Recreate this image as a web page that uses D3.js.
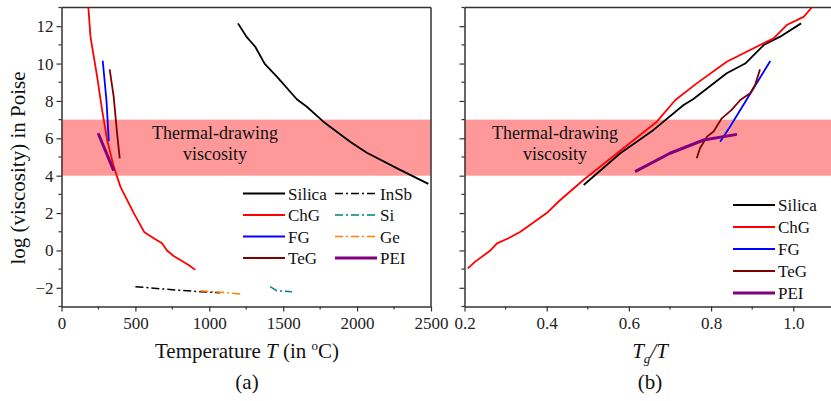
<!DOCTYPE html>
<html><head><meta charset="utf-8">
<script src="https://cdn.jsdelivr.net/npm/d3@7"></script>
<style>body{margin:0;background:#fff}svg{display:block;font-family:"Liberation Serif","Times New Roman",serif}svg text{font-family:"Liberation Serif","Times New Roman",serif}</style>
</head><body><svg id="c" width="831" height="401"></svg>
<script>
// ---- data ----
const yTicks = [-2, 0, 2, 4, 6, 8, 10, 12];
const xTicksA = [0, 500, 1000, 1500, 2000, 2500];
const xTicksB = [0.2, 0.4, 0.6, 0.8, 1.0];
const band = [4, 7];

// Panel (a): temperature (°C) vs log viscosity
const silicaA = [[1194,12.15],[1255,11.4],[1311,10.9],[1375,9.98],[1457,9.3],[1592,8.09],[1660,7.69],[1772,6.89],[1953,5.82],[2066,5.23],[2291,4.31],[2482,3.56]];
const chgA = [[180,13.2],[196,11.44],[241,9.3],[275,7.5],[309,5.9],[353,4.5],[399,3.4],[489,2.0],[561,0.97],[624,0.65],[680,0.38],[714,0.0],[759,-0.3],[860,-0.78],[905,-1.04]];
const fgA = [[279,10.15],[304,8.05],[320,5.85]];
const tegA = [[326,9.69],[353,8.23],[376,6.27],[394,4.93]];
const peiA = [[248,6.27],[286,5.55],[353,4.27]];
const insbA = [[500,-1.94],[714,-2.08],[939,-2.21],[1074,-2.26]];
const geA = [[939,-2.16],[1080,-2.24],[1214,-2.34]];
const siA = [[1412,-1.94],[1457,-2.16],[1559,-2.21]];

// Panel (b): Tg/T vs log viscosity
const silicaB = [[0.49,3.5],[0.579,5.2],[0.66,6.45],[0.733,7.78],[0.757,8.1],[0.838,9.48],[0.883,10.0],[0.928,10.99],[0.968,11.44],[1.019,12.15]];
const chgB = [[0.208,-0.96],[0.226,-0.6],[0.263,0.0],[0.279,0.38],[0.307,0.65],[0.336,1.0],[0.4,2.0],[0.433,2.7],[0.49,3.78],[0.668,6.89],[0.713,8.05],[0.765,8.94],[0.838,10.1],[0.952,11.35],[0.984,12.06],[1.025,12.5],[1.045,13.0]];
const fgB = [[0.822,5.82],[0.846,6.62],[0.944,10.14]];
const tegB = [[0.765,4.93],[0.773,5.47],[0.79,6.09],[0.806,6.36],[0.826,7.07],[0.85,7.52],[0.871,8.05],[0.895,8.41],[0.907,8.85],[0.919,9.69]];
const peiB = [[0.615,4.22],[0.7,5.2],[0.782,5.91],[0.863,6.21]];

const legendA = [["Silica","#000",1.8,null],["ChG","#ff0000",1.8,null],["FG","#0000ff",1.8,null],["TeG","#800000",1.8,null],
                 ["InSb","#000",1.5,"8,3,2,3"],["Si","#008080",1.5,"8,3,2,3"],["Ge","#ff8000",1.5,"8,3,2,3"],["PEI","#800080",3,null]];
const legendB = [["Silica","#000",1.8],["ChG","#ff0000",1.8],["FG","#0000ff",1.8],["TeG","#800000",1.8],["PEI","#800080",3]];

// ---- drawing ----
const svg = d3.select("#c");
const y = d3.scaleLinear().domain([-3, 13]).range([306.5, 7.5]);
const xA = d3.scaleLinear().domain([0, 2500]).range([61.5, 431]);
const xB = d3.scaleLinear().domain([0.2, 1.1]).range([464.5, 834.4]);
const defs = svg.append("defs");
defs.append("clipPath").attr("id", "clipA").append("rect").attr("x", 61.5).attr("y", 7.5).attr("width", 369.5).attr("height", 299);
defs.append("clipPath").attr("id", "clipB").append("rect").attr("x", 464.5).attr("y", 7.5).attr("width", 370).attr("height", 299);

function panel(x, xt, minorX, fmt, showYLabels, rightBorder) {
  const g = svg.append("g");
  const [x0, x1] = x.range();
  g.append("rect").attr("x", x0).attr("y", y(band[1])).attr("width", x1 - x0)
   .attr("height", y(band[0]) - y(band[1])).attr("fill", "#ff9999");
  const yMinor = d3.range(-3, 13.01, 1).filter(v => !yTicks.includes(v));
  g.selectAll(".ym").data(yMinor).join("line").attr("x1", x0 - 3).attr("x2", x0)
   .attr("y1", d => y(d)).attr("y2", d => y(d)).attr("stroke", "#333").attr("stroke-width", 1.2);
  g.selectAll(".xm").data(minorX).join("line").attr("y1", 306.5).attr("y2", 309.5)
   .attr("x1", d => x(d)).attr("x2", d => x(d)).attr("stroke", "#333").attr("stroke-width", 1.2);
  const ya = g.append("g").attr("transform", `translate(${x0},0)`)
   .call(d3.axisLeft(y).tickValues(yTicks).tickSize(5).tickSizeOuter(0).tickPadding(3)
     .tickFormat(showYLabels ? d3.format("d") : () => ""));
  const xa = g.append("g").attr("transform", "translate(0,306.5)")
   .call(d3.axisBottom(x).tickValues(xt).tickSize(5).tickSizeOuter(0).tickPadding(5).tickFormat(fmt));
  [ya, xa].forEach(a => {
    a.attr("font-family", null);
    a.select(".domain").attr("stroke", "#333").attr("stroke-width", 1.5);
    a.selectAll(".tick line").attr("stroke", "#333").attr("stroke-width", 1.2);
    a.selectAll("text").style("font-family", "'Liberation Serif', serif").attr("font-size", 17).attr("fill", "#222");
  });
  g.append("line").attr("x1", x0).attr("x2", x1).attr("y1", 7.5).attr("y2", 7.5).attr("stroke", "#333").attr("stroke-width", 1.5);
  if (rightBorder) g.append("line").attr("x1", x1).attr("x2", x1).attr("y1", 7.5).attr("y2", 306.5).attr("stroke", "#333").attr("stroke-width", 1.5);
  return g;
}

const gA = panel(xA, xTicksA, [250, 750, 1250, 1750, 2250], d3.format("d"), true, true);
const gB = panel(xB, xTicksB, [0.3, 0.5, 0.7, 0.9, 1.1], d3.format(".1f"), false, false);

function bandText(g, cx) {
  const t = g.append("text").attr("text-anchor", "middle").attr("font-size", 18).attr("fill", "#111");
  t.append("tspan").attr("x", cx).attr("y", 139).text("Thermal-drawing");
  t.append("tspan").attr("x", cx).attr("y", 160).text("viscosity");
}
bandText(gA, 215);
bandText(gB, 555);

function series(g, x, data, color, w, dash) {
  const line = d3.line().x(d => x(d[0])).y(d => y(d[1]));
  g.append("path").datum(data).attr("d", line).attr("fill", "none").attr("stroke", color)
   .attr("stroke-width", w).attr("stroke-linejoin", "round").attr("stroke-dasharray", dash || null)
   .attr("clip-path", g === gA ? "url(#clipA)" : "url(#clipB)");
}

const dd = "8,3,2,3";
series(gA, xA, silicaA, "#000", 1.8);
series(gA, xA, chgA, "#ff0000", 1.8);
series(gA, xA, fgA, "#0000ff", 1.8);
series(gA, xA, tegA, "#800000", 1.8);
series(gA, xA, peiA, "#800080", 3);
series(gA, xA, insbA, "#000", 1.5, dd);
series(gA, xA, geA, "#ff8000", 1.5, dd);
series(gA, xA, siA, "#008080", 1.5, dd);

series(gB, xB, silicaB, "#000", 1.8);
series(gB, xB, chgB, "#ff0000", 1.8);
series(gB, xB, fgB, "#0000ff", 1.8);
series(gB, xB, tegB, "#800000", 1.8);
series(gB, xB, peiB, "#800080", 3);

legendA.forEach((d, i) => {
  const col = Math.floor(i / 4), row = i % 4;
  const lx = col === 0 ? 243 : 335, ly = 193.5 + row * 21.5;
  gA.append("line").attr("x1", lx).attr("x2", lx + 42).attr("y1", ly).attr("y2", ly)
    .attr("stroke", d[1]).attr("stroke-width", d[2]).attr("stroke-dasharray", d[3]);
  gA.append("text").attr("x", lx + 45).attr("y", ly + 6).attr("font-size", 17).attr("fill", "#111").text(d[0]);
});
legendB.forEach((d, i) => {
  const lx = 733, ly = 205 + i * 22;
  gB.append("line").attr("x1", lx).attr("x2", lx + 42).attr("y1", ly).attr("y2", ly)
    .attr("stroke", d[1]).attr("stroke-width", d[2]);
  gB.append("text").attr("x", lx + 45).attr("y", ly + 6).attr("font-size", 17).attr("fill", "#111").text(d[0]);
});

const tA = svg.append("text").attr("x", 247).attr("y", 358).attr("text-anchor", "middle").attr("font-size", 21).attr("fill", "#111");
tA.append("tspan").text("Temperature ");
tA.append("tspan").attr("font-style", "italic").text("T");
tA.append("tspan").text(" (in ");
tA.append("tspan").attr("font-size", 13).attr("dy", -8).text("o");
tA.append("tspan").attr("dy", 8).text("C)");
svg.append("text").attr("transform", "translate(25,168) rotate(-90)").attr("text-anchor", "middle")
  .attr("font-size", 21).attr("fill", "#111").text("log (viscosity) in Poise");
svg.append("text").attr("x", 247).attr("y", 389).attr("text-anchor", "middle").attr("font-size", 21).attr("fill", "#111").text("(a)");
const tB = svg.append("text").attr("x", 650).attr("y", 358).attr("text-anchor", "middle").attr("font-size", 21).attr("fill", "#111").attr("font-style", "italic");
tB.append("tspan").text("T");
tB.append("tspan").attr("font-size", 13).attr("dy", 5).text("g");
tB.append("tspan").attr("dy", -5).text("/T");
svg.append("text").attr("x", 650).attr("y", 389).attr("text-anchor", "middle").attr("font-size", 21).attr("fill", "#111").text("(b)");
</script></body></html>
